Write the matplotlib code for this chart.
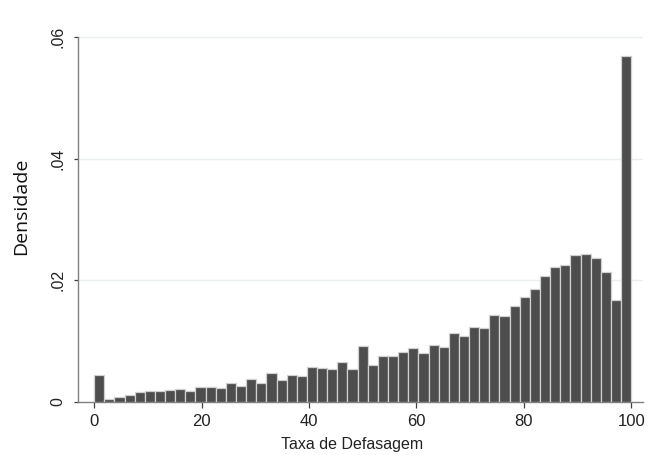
import numpy as np
import matplotlib as mpl
import matplotlib.pyplot as plt

# histogram: 53 equal bins from 0 to 100 (density)
bin_lo = 0.0
bin_hi = 100.0
densidade = [
    0.0044, 0.0005, 0.0009, 0.0012, 0.0016, 0.0018, 0.0018, 0.0020, 0.0022, 0.0018,
    0.0024, 0.0024, 0.0023, 0.0032, 0.0027, 0.0038, 0.0032, 0.0047, 0.0036, 0.0045,
    0.0043, 0.0058, 0.0056, 0.0054, 0.0066, 0.0054, 0.0092, 0.0061, 0.0075, 0.0075,
    0.0083, 0.0089, 0.0081, 0.0094, 0.0090, 0.0113, 0.0108, 0.0124, 0.0122, 0.0143,
    0.0142, 0.0158, 0.0173, 0.0185, 0.0207, 0.0222, 0.0225, 0.0242, 0.0244, 0.0236,
    0.0214, 0.0168, 0.0568,
]
x_ticks = [0, 20, 40, 60, 80, 100]
y_ticks = [0, 0.02, 0.04, 0.06]
y_tick_labels = ["0", ".02", ".04", ".06"]

mpl.rcParams.update({
    "font.family": ["Liberation Sans", "DejaVu Sans"],
    "font.size": 11,
})

fig = plt.figure(figsize=(6.48, 4.55), dpi=100)
ax = fig.add_axes([0.1204, 0.1165, 0.8719, 0.8175])

edges = np.linspace(bin_lo, bin_hi, len(densidade) + 1)
width = edges[1] - edges[0]
ax.bar(edges[:-1], densidade, width=width, align="edge",
       color="#4d4d4d", edgecolor="#d0d0d0", linewidth=0.9, zorder=3)

ax.set_xlim(-3.0, 102.2)
ax.set_ylim(0, 0.06 * 372 / 365)

ax.set_yticks(y_ticks)
ax.set_yticklabels(y_tick_labels, rotation=90, va="center")
ax.set_xticks(x_ticks)

ax.grid(axis="y", color="#eaf0f0", linewidth=1.0, zorder=0)
ax.grid(axis="x", visible=False)

for s in ["top", "right"]:
    ax.spines[s].set_visible(False)
for s in ["left", "bottom"]:
    ax.spines[s].set_color("#808080")
    ax.spines[s].set_linewidth(1.0)
ax.spines["left"].set_bounds(0, 0.06)

ax.tick_params(axis="x", direction="out", length=4.0, width=0.9,
               color="#404040", labelcolor="#222222", labelsize=12, pad=5)
ax.tick_params(axis="y", direction="out", length=3.0, width=0.9,
               color="#404040", labelcolor="#222222", labelsize=11.5, pad=6)

ax.set_xlabel("Taxa de Defasagem", fontsize=11.5, color="#222222")
ax.xaxis.set_label_coords(0.485, -0.093, transform=ax.transAxes)
ax.set_ylabel("Densidade", fontsize=14, family="Open Sans", color="#111111")
ax.yaxis.set_label_coords(-0.085, 0.527, transform=ax.transAxes)

fig.savefig("out.png", dpi=100)
